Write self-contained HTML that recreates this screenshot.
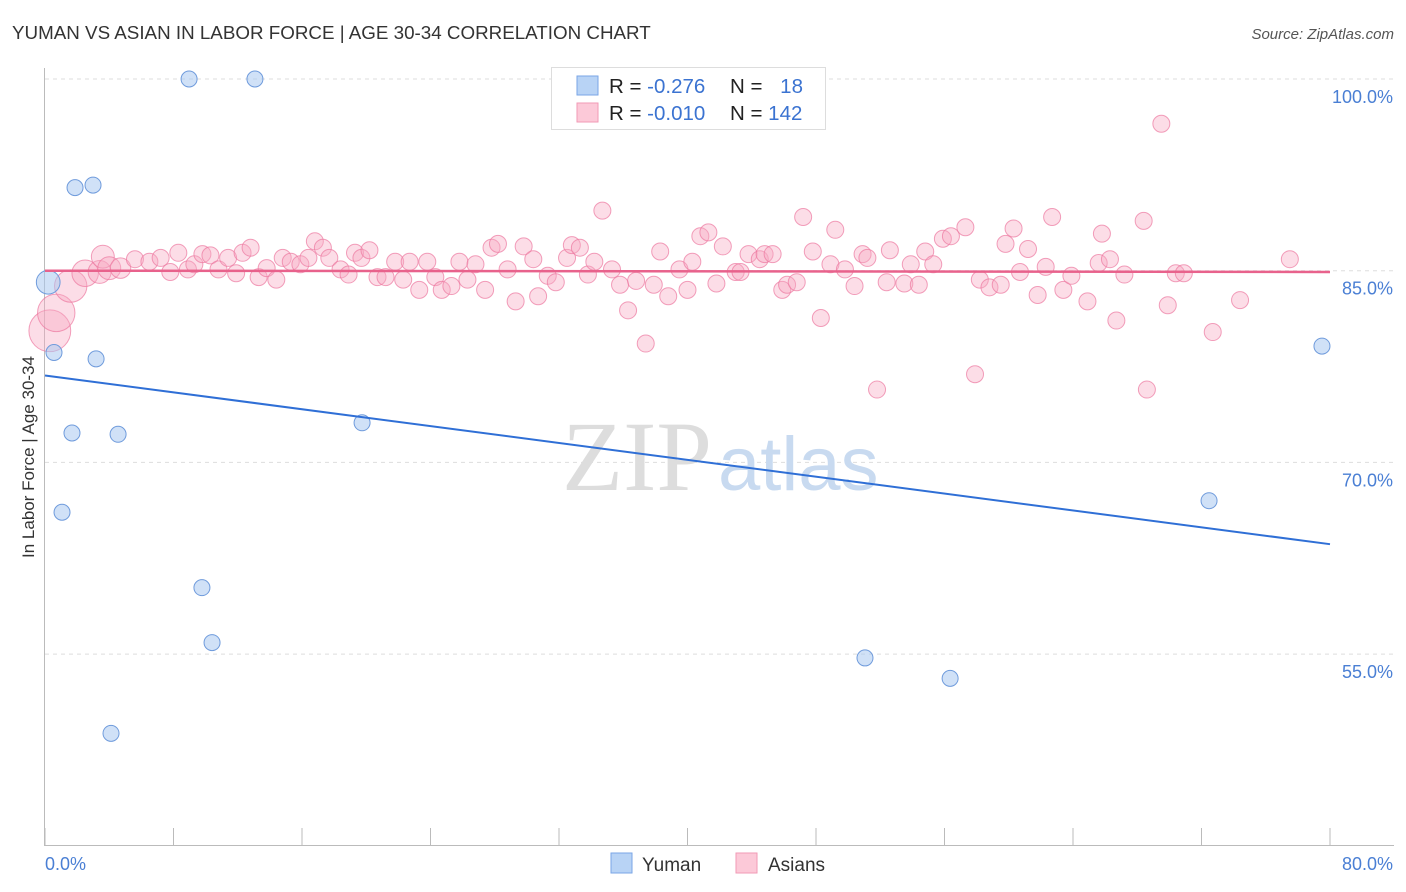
<!DOCTYPE html>
<html><head><meta charset="utf-8"><style>
body{margin:0;background:#fff;font-family:"Liberation Sans",sans-serif;}
svg{display:block}
</style></head><body>
<svg id="chart" width="1406" height="892" xmlns="http://www.w3.org/2000/svg">
<text x="12" y="39" font-size="18.8" fill="#333">YUMAN VS ASIAN IN LABOR FORCE | AGE 30-34 CORRELATION CHART</text>
<text x="1394" y="39" font-size="15" font-style="italic" fill="#555" text-anchor="end">Source: ZipAtlas.com</text>
<g id="grid"></g>
<text x="712" y="490" font-size="100" font-family="Liberation Serif" fill="#ddd" text-anchor="end">ZIP</text>
<text x="718" y="490" font-size="76" fill="#c8daf0">atlas</text>
<g id="axes"></g>
<g id="pinkdots"></g>
<g id="bluedots"></g>
<g id="lines"></g>
<text transform="translate(34,457) rotate(-90)" font-size="17" fill="#333" text-anchor="middle">In Labor Force | Age 30-34</text>
<g>
<rect x="551.5" y="67.5" width="274" height="62" fill="#fff" stroke="#ddd"/>
<rect x="577" y="76" width="21" height="19" fill="#b8d3f5" stroke="#7aa6e6"/>
<rect x="577" y="103" width="21" height="19" fill="#fcc9d8" stroke="#f29ab6"/>
<text x="609" y="93" font-size="20.5" fill="#222">R = <tspan fill="#3b73d1">-0.276</tspan></text>
<text x="730" y="93" font-size="20.5" fill="#222">N = <tspan fill="#3b73d1" dx="12">18</tspan></text>
<text x="609" y="120" font-size="20.5" fill="#222">R = <tspan fill="#3b73d1">-0.010</tspan></text>
<text x="730" y="120" font-size="20.5" fill="#222">N = <tspan fill="#3b73d1">142</tspan></text>
</g>
<g>
<rect x="611" y="853" width="21" height="20" fill="#b8d3f5" stroke="#7aa6e6"/>
<text x="642" y="871" font-size="19" fill="#333">Yuman</text>
<rect x="736" y="853" width="21" height="20" fill="#fcc9d8" stroke="#f29ab6"/>
<text x="768" y="871" font-size="19" fill="#333">Asians</text>
</g>
</svg>
<script>
const yTicks=[100,85,70,55];
const yTickLabels=["100.0%","85.0%","70.0%","55.0%"];
const xTicks=[0,8,16,24,32,40,48,56,64,72,80];
const yumanX=[0.2,0.56,1.87,2.99,8.97,13.07,3.18,1.68,4.55,1.06,9.77,10.4,4.11,19.74,51.05,56.35,72.47,79.5];
const yumanY=[84.1,78.6,91.5,91.7,100,100,78.1,72.3,72.2,66.1,60.2,55.9,48.8,73.1,54.7,53.1,67.0,79.1];
const yumanW=[2.2,1,1,1,1,1,1,1,1,1,1,1,1,1,1,1,1,1];
const asianX=[0.3,0.7,1.6,2.5,3.4,3.6,4.0,4.7,5.6,6.5,7.2,7.8,8.3,8.9,9.3,9.8,10.3,10.8,11.4,11.9,12.3,12.8,13.3,13.8,14.4,14.8,15.3,15.9,16.4,16.8,17.3,17.7,18.4,18.9,19.3,19.7,20.2,20.7,21.2,21.8,22.3,22.7,23.3,23.8,24.3,24.7,25.3,25.8,26.3,26.8,27.4,27.8,28.2,28.8,29.3,29.8,30.4,30.7,31.3,31.8,32.5,32.8,33.3,33.8,34.2,34.7,35.3,35.8,36.3,36.8,37.4,37.9,38.3,38.8,39.5,40.0,40.3,40.8,41.3,41.8,42.2,43.0,43.3,43.8,44.5,44.8,45.3,45.9,46.2,46.8,47.2,47.8,48.3,49.2,48.9,49.8,50.4,50.9,51.2,51.8,52.4,52.6,53.5,53.9,54.4,54.8,55.3,55.9,56.4,57.3,57.9,58.2,58.8,59.5,59.8,60.3,60.7,61.2,61.8,62.3,62.7,63.4,63.9,64.9,65.6,65.8,66.3,66.7,67.2,68.4,68.6,69.5,69.9,70.4,70.9,72.7,74.4,77.5];
const asianY=[80.3,81.7,83.8,84.8,84.9,86.1,85.2,85.2,85.9,85.7,86.0,84.9,86.4,85.1,85.5,86.3,86.2,85.1,86.0,84.8,86.4,86.8,84.5,85.2,84.3,86.0,85.7,85.5,86.0,87.3,86.8,86.0,85.1,84.7,86.4,86.0,86.6,84.5,84.5,85.7,84.3,85.7,83.5,85.7,84.5,83.5,83.8,85.7,84.3,85.5,83.5,86.8,87.1,85.1,82.6,86.9,85.9,83.0,84.6,84.1,86.0,87.0,86.8,84.7,85.7,89.7,85.1,83.9,81.9,84.2,79.3,83.9,86.5,83.0,85.1,83.5,85.7,87.7,88.0,84.0,86.9,84.9,84.9,86.3,85.9,86.3,86.3,83.5,83.9,84.1,89.2,86.5,81.3,88.2,85.5,85.1,83.8,86.3,86.0,75.7,84.1,86.6,84.0,85.5,83.9,86.5,85.5,87.5,87.7,88.4,76.9,84.3,83.7,83.9,87.1,88.3,84.9,86.7,83.1,85.3,89.2,83.5,84.6,82.6,85.6,87.9,85.9,81.1,84.7,88.9,75.7,96.5,82.3,84.8,84.8,80.2,82.7,85.9];
const asianW=[5,4,3,2,1.5,1.5,1.5,1.2];
const yumanTrend=[76.8,63.6];
const asianTrend=[85.0,84.9];
const X0=45,X1=1330,Y0=79,YS=191.7/15;
const sx=v=>X0+(X1-X0)*v/80;
const sy=v=>Y0+(100-v)*YS;
const NS="http://www.w3.org/2000/svg";
function mk(t,a,p){const e=document.createElementNS(NS,t);for(const k in a)e.setAttribute(k,a[k]);p.appendChild(e);return e;}
const grid=document.getElementById('grid'),axes=document.getElementById('axes');
yTicks.forEach((v,i)=>{
 const l=mk('line',{x1:45,x2:1394,y1:sy(v),y2:sy(v),stroke:'#ddd','stroke-dasharray':'4,4'},grid);
 
 
 const t=mk('text',{x:1393,y:sy(v)+24,'font-size':18,fill:'#4a7fd4','text-anchor':'end'},grid);
 t.textContent=yTickLabels[i];
 
 
});
mk('line',{x1:44.5,x2:44.5,y1:68,y2:845,stroke:'#bbb'},axes);
mk('line',{x1:44,x2:1394,y1:845.5,y2:845.5,stroke:'#bbb'},axes);
xTicks.forEach(v=>{
 const l=mk('line',{x1:sx(v),x2:sx(v),y1:828,y2:845,stroke:'#bbb'},axes);
 
 
});
const xl=mk('text',{x:45,y:870,'font-size':18,fill:'#4a7fd4'},axes);xl.textContent='0.0%';


const xr=mk('text',{x:1393,y:870,'font-size':18,fill:'#4a7fd4','text-anchor':'end'},axes);xr.textContent='80.0%';


const pg=document.getElementById('pinkdots');
asianX.forEach((x,i)=>{
 const w=asianW[i]||1;
 const c=mk('circle',{cx:sx(x),cy:sy(asianY[i]),r:8.5*Math.sqrt(w)*(w>1?1.1:1),fill:'rgba(248,170,195,0.4)',stroke:'rgba(236,120,160,0.7)','stroke-width':1},pg);
 
 
});
const bg=document.getElementById('bluedots');
yumanX.forEach((x,i)=>{
 const c=mk('circle',{cx:sx(x),cy:sy(yumanY[i]),r:8*Math.sqrt(yumanW[i]),fill:'rgba(170,200,240,0.55)',stroke:'#6f9bdc','stroke-width':1},bg);
 
 
});
const lg=document.getElementById('lines');
const l1=mk('line',{x1:sx(0),x2:sx(80),y1:sy(yumanTrend[0]),y2:sy(yumanTrend[1]),stroke:'#2f6fd6','stroke-width':2},lg);


const l2=mk('line',{x1:sx(0),x2:sx(80),y1:sy(asianTrend[0]),y2:sy(asianTrend[1]),stroke:'#e8628c','stroke-width':2.5},lg);


</script>
</body></html>
